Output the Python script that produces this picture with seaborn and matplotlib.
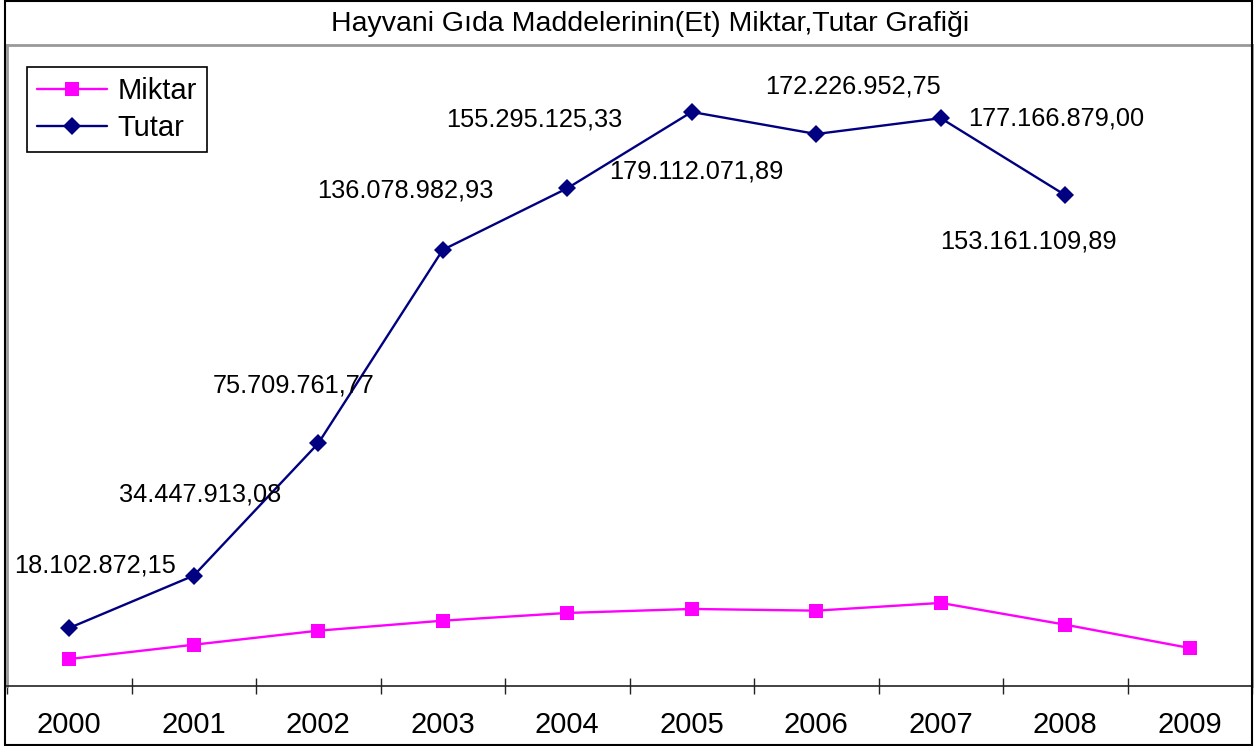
import numpy as np
import pandas as pd
import matplotlib.pyplot as plt
import seaborn as sns
from matplotlib.patches import Rectangle
from matplotlib.ticker import FixedLocator, NullFormatter

years = ["2000", "2001", "2002", "2003", "2004", "2005", "2006", "2007", "2008", "2009"]
miktar = [8410000, 12880000, 17260000, 20380000, 22790000, 24040000, 23510000, 25920000, 19130000, 11850000]
tutar = [18102872.15, 34447913.08, 75709761.77, 136078982.93, 155295125.33,
         179112071.89, 172226952.75, 177166879.00, 153161109.89, np.nan]
title = "Hayvani Gıda Maddelerinin(Et) Miktar,Tutar Grafiği"

df = pd.DataFrame({"idx": range(len(years)), "Miktar": miktar, "Tutar": tutar})


def tr_fmt(v):
    s = f"{v:,.2f}"
    return s.replace(",", "X").replace(".", ",").replace("X", ".")


sns.set_style("white")
plt.rcParams["font.family"] = ["Liberation Sans", "DejaVu Sans"]
plt.rcParams["text.color"] = "black"
plt.rcParams["xtick.color"] = "black"

W, H = 1255, 746
fig = plt.figure(figsize=(W / 100, H / 100), dpi=100)
ax = fig.add_axes([7 / W, (H - 686) / H, (1252 - 7) / W, (686 - 45) / H])

sns.lineplot(data=df, x="idx", y="Miktar", ax=ax, color="#FF00FF", marker="s",
             markersize=10.5, markeredgewidth=0, linewidth=1.7, label="Miktar")
sns.lineplot(data=df.dropna(), x="idx", y="Tutar", ax=ax, color="#000080", marker="D",
             markersize=9.5, markeredgewidth=0, linewidth=1.7, label="Tutar")

# data labels (pixel offsets from each point)
offsets = [(26, 62), (6, 81), (-25, 58), (-37, 59), (-33, 69),
           (5, -60), (37, 48), (115, 0), (-37, -46)]
for i, (dx, dy) in enumerate(offsets):
    ax.annotate(tr_fmt(tutar[i]), xy=(i, tutar[i]), xytext=(dx, dy), color="black",
                textcoords="offset pixels", ha="center", va="center", fontsize=18.3)

ax.set_xlim(-0.5, 9.5)
ax.set_ylim(0, 200e6)
ax.set_xlabel("")
ax.set_ylabel("")
ax.set_yticks([])

ax.xaxis.set_major_locator(FixedLocator(np.arange(-0.5, 10, 1)))
ax.xaxis.set_major_formatter(NullFormatter())
ax.xaxis.set_minor_locator(FixedLocator(np.arange(10)))
ax.set_xticklabels(years, minor=True)
ax.tick_params(axis="x", which="major", direction="inout", length=12, width=1, color="#222222", bottom=True)
ax.tick_params(axis="x", which="minor", length=0, pad=18, labelsize=21, labelcolor="black")

for side in ["left", "top", "right"]:
    ax.spines[side].set_color("#999999")
    ax.spines[side].set_linewidth(2)
ax.spines["bottom"].set_color("#222222")
ax.spines["bottom"].set_linewidth(1.2)

leg = ax.legend(loc="upper left", bbox_to_anchor=(27 / W, 1 - 67 / H), bbox_transform=fig.transFigure,
                frameon=True, fancybox=False, framealpha=1, edgecolor="black", fontsize=21,
                handlelength=2.4, borderpad=0.35, labelspacing=0.3, handletextpad=0.35, borderaxespad=0)
leg.get_frame().set_linewidth(1.2)
for t in leg.get_texts():
    t.set_color("black")

fig.text(650 / W, 1 - 24 / H, title, ha="center", va="center", fontsize=20.5, color="black")
fig.patches.append(Rectangle((5 / W, 1 / H), (1252 - 5) / W, (744) / H, transform=fig.transFigure,
                             fill=False, edgecolor="black", linewidth=1.5))

fig.savefig("out.png", dpi=100)
